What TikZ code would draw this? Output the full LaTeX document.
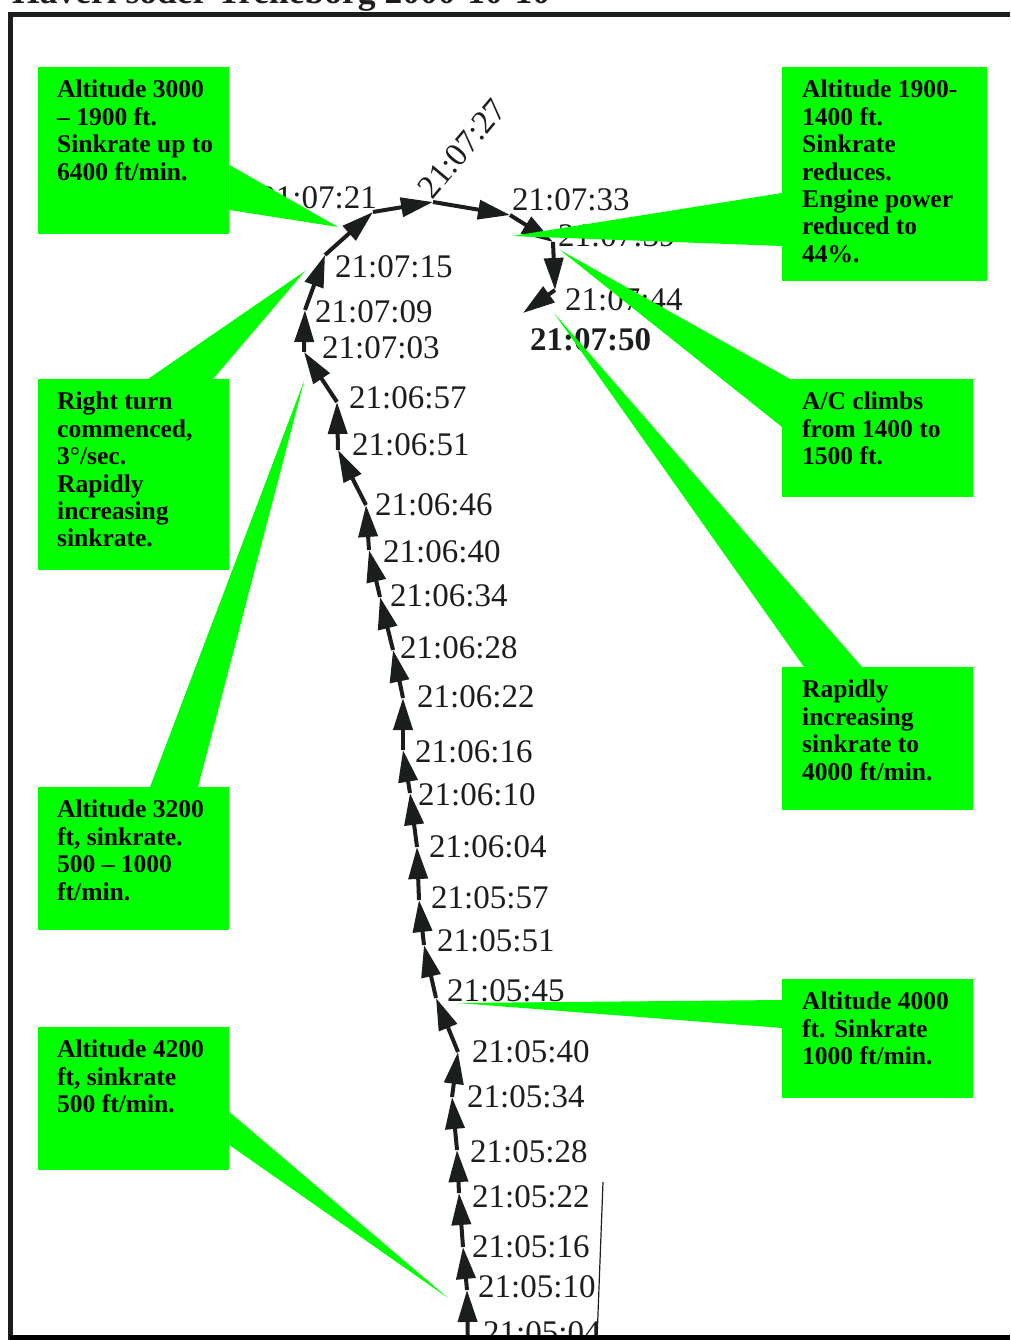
\documentclass[tikz,border=0pt]{standalone}
\usepackage{fontspec}
\setmainfont{Liberation Serif}
\usepackage{xcolor}
\usepackage{tikz}
\usetikzlibrary{positioning, arrows.meta}

\definecolor{callgreen}{RGB}{0,255,0}
\definecolor{ink}{RGB}{26,30,28}

\begin{document}
\begin{tikzpicture}[
            x=1pt, y=-1pt,
            callbox/.style={
                    fill=callgreen,
                    inner sep=0pt,
                    anchor=north west
                },
            calltext/.style={
                    inner sep=0pt,
                    anchor=north west,
                    align=left,
                    font=\fontsize{25.5}{27.4}\selectfont\bfseries
                },
            stamp/.style={
                    inner sep=0pt,
                    anchor=west,
                    text=ink,
                    font=\fontsize{33}{33}\selectfont
                },
            seg/.style={
                    -{Triangle[length=32pt,width=19pt]},
                    draw=ink,
                    line width=4pt
                },
            wedge/.style={
                    fill=callgreen
                }
        ]

        \useasboundingbox (0,0) rectangle (1010,1340);
        \clip (0,0) rectangle (1010,1340);


        % title, cut at the top of the page
        \node[anchor=base west, inner sep=0pt, text=ink,
            font=\fontsize{35.5}{35.5}\selectfont\bfseries] (title) at (12,4)
        {Haveri söder Trelleborg 2000-10-10};


        % flight track
        \coordinate (p0504) at (468,1350);
        \coordinate (p0510) at (467,1290);
        \coordinate (p0516) at (463,1247);
        \coordinate (p0522) at (459,1193);
        \coordinate (p0528) at (457,1150);
        \coordinate (p0534) at (452,1097);
        \coordinate (p0540) at (458,1052);
        \coordinate (p0545) at (436,998);
        \coordinate (p0551) at (424,945);
        \coordinate (p0557) at (419,900);
        \coordinate (p0604) at (417,847);
        \coordinate (p0610) at (410,793);
        \coordinate (p0616) at (403,750);
        \coordinate (p0622) at (403,698);
        \coordinate (p0628) at (393,650);
        \coordinate (p0634) at (380,597);
        \coordinate (p0640) at (369,550);
        \coordinate (p0646) at (366,505);
        \coordinate (p0651) at (338,450);
        \coordinate (p0657) at (337,402);
        \coordinate (p0703) at (304,352);
        \coordinate (p0709) at (305,310);
        \coordinate (p0715) at (325,255);
        \coordinate (p0721) at (373,212);
        \coordinate (p0727) at (433,202);
        \coordinate (p0733) at (510,215);
        \coordinate (p0739) at (553,242);
        \coordinate (p0744) at (555,290);
        \coordinate (p0750) at (523,313);


        \draw[seg] (p0504) -- (p0510);
        \draw[seg] (p0510) -- (p0516);
        \draw[seg] (p0516) -- (p0522);
        \draw[seg] (p0522) -- (p0528);
        \draw[seg] (p0528) -- (p0534);
        \draw[seg] (p0534) -- (p0540);
        \draw[seg] (p0540) -- (p0545);
        \draw[seg] (p0545) -- (p0551);
        \draw[seg] (p0551) -- (p0557);
        \draw[seg] (p0557) -- (p0604);
        \draw[seg] (p0604) -- (p0610);
        \draw[seg] (p0610) -- (p0616);
        \draw[seg] (p0616) -- (p0622);
        \draw[seg] (p0622) -- (p0628);
        \draw[seg] (p0628) -- (p0634);
        \draw[seg] (p0634) -- (p0640);
        \draw[seg] (p0640) -- (p0646);
        \draw[seg] (p0646) -- (p0651);
        \draw[seg] (p0651) -- (p0657);
        \draw[seg] (p0657) -- (p0703);
        \draw[seg] (p0703) -- (p0709);
        \draw[seg] (p0709) -- (p0715);
        \draw[seg] (p0715) -- (p0721);
        \draw[seg] (p0721) -- (p0727);
        \draw[seg] (p0727) -- (p0733);
        \draw[seg] (p0733) -- (p0739);
        \draw[seg] (p0739) -- (p0744);
        \draw[seg] (p0744) -- (p0750);


        % time stamps
        \node[stamp] (t0504) at (483,1333) {21:05:04};
        \node[stamp] (t0510) at (478,1287) {21:05:10};
        \node[stamp] (t0516) at (472,1247) {21:05:16};
        \node[stamp] (t0522) at (472,1197) {21:05:22};
        \node[stamp] (t0528) at (470,1152) {21:05:28};
        \node[stamp] (t0534) at (467,1097) {21:05:34};
        \node[stamp] (t0540) at (472,1052) {21:05:40};
        \node[stamp] (t0545) at (447,991) {21:05:45};
        \node[stamp] (t0551) at (437,941) {21:05:51};
        \node[stamp] (t0557) at (431,898) {21:05:57};
        \node[stamp] (t0604) at (429,847) {21:06:04};
        \node[stamp] (t0610) at (418,795) {21:06:10};
        \node[stamp] (t0616) at (415,752) {21:06:16};
        \node[stamp] (t0622) at (417,697) {21:06:22};
        \node[stamp] (t0628) at (400,648) {21:06:28};
        \node[stamp] (t0634) at (390,596) {21:06:34};
        \node[stamp] (t0640) at (383,552) {21:06:40};
        \node[stamp] (t0646) at (375,505) {21:06:46};
        \node[stamp] (t0651) at (352,445) {21:06:51};
        \node[stamp] (t0657) at (349,398) {21:06:57};
        \node[stamp] (t0703) at (322,348) {21:07:03};
        \node[stamp] (t0709) at (315,312) {21:07:09};
        \node[stamp] (t0715) at (335,267) {21:07:15};
        \node[stamp, anchor=east] (t0721) at (377,198) {21:07:21};
        \node[stamp, anchor=south west, rotate=50] (t0727) at (433,201) {21:07:27};
        \node[stamp] (t0733) at (512,200) {21:07:33};
        \node[stamp] (t0739) at (558,236) {21:07:39};
        \node[stamp] (t0744) at (565,300) {21:07:44};
        \node[stamp, font=\fontsize{33}{33}\selectfont\bfseries] (t0750) at (530,340) {21:07:50};


        % callout boxes
        \node[callbox, minimum width=191pt, minimum height=167pt] (c3000) at (38,67) {};
        \node[calltext] (c3000txt) at ([shift={(19,13)}]c3000.north west)
        {Altitude 3000\\– 1900 ft.\\Sinkrate up to\\6400 ft/min.};

        \node[callbox, minimum width=205pt, minimum height=214pt] (c1900) at (782,67) {};
        \node[calltext] (c1900txt) at ([shift={(20,13)}]c1900.north west)
        {Altitude 1900-\\1400 ft.\\Sinkrate\\reduces.\\Engine power\\reduced to\\44\%.};

        \node[callbox, minimum width=191pt, minimum height=191pt] (cturn) at (38,379) {};
        \node[calltext] (cturntxt) at ([shift={(19,13)}]cturn.north west)
        {Right turn\\commenced,\\3°/sec.\\Rapidly\\increasing\\sinkrate.};

        \node[callbox, minimum width=191pt, minimum height=118pt] (cclimb) at (782,379) {};
        \node[calltext] (cclimbtxt) at ([shift={(20,13)}]cclimb.north west)
        {A/C climbs\\from 1400 to\\1500 ft.};

        \node[callbox, minimum width=191pt, minimum height=143pt] (csink) at (782,667) {};
        \node[calltext] (csinktxt) at ([shift={(20,13)}]csink.north west)
        {Rapidly\\increasing\\sinkrate to\\4000 ft/min.};

        \node[callbox, minimum width=191pt, minimum height=143pt] (c3200) at (38,787) {};
        \node[calltext] (c3200txt) at ([shift={(19,13)}]c3200.north west)
        {Altitude 3200\\ft, sinkrate.\\500 – 1000\\ft/min.};

        \node[callbox, minimum width=191pt, minimum height=119pt] (c4000) at (782,979) {};
        \node[calltext] (c4000txt) at ([shift={(20,13)}]c4000.north west)
        {Altitude 4000\\ft. Sinkrate\\1000 ft/min.};

        \node[callbox, minimum width=191pt, minimum height=143pt] (c4200) at (38,1027) {};
        \node[calltext] (c4200txt) at ([shift={(19,13)}]c4200.north west)
        {Altitude 4200\\ft, sinkrate\\500 ft/min.};


        % callout pointers
        \coordinate (w3000) at (338,227);
        \coordinate (w1900) at (512,236);
        \coordinate (wturn) at (305,271);
        \coordinate (wclimb) at (560,250);
        \coordinate (wsink) at (554,313);
        \coordinate (w3200) at (304,381);
        \coordinate (w4000) at (458,1003);
        \coordinate (w4200) at (448,1298);

        \fill[wedge] ([shift={(0,98)}]c3000.north east) -- (w3000) -- ([shift={(0,143)}]c3000.north east) -- cycle;
        \fill[wedge] ([shift={(0,126)}]c1900.north west) -- (w1900) -- ([shift={(0,179)}]c1900.north west) -- cycle;
        \fill[wedge] ([shift={(110,0)}]cturn.north west) -- (wturn) -- ([shift={(175,0)}]cturn.north west) -- cycle;
        \fill[wedge] ([shift={(8,0)}]cclimb.north west) -- (wclimb) -- ([shift={(0,48)}]cclimb.north west) -- cycle;
        \fill[wedge] ([shift={(22,0)}]csink.north west) -- (wsink) -- ([shift={(80,0)}]csink.north west) -- cycle;
        \fill[wedge] ([shift={(112,0)}]c3200.north west) -- (w3200) -- ([shift={(160,0)}]c3200.north west) -- cycle;
        \fill[wedge] ([shift={(0,21)}]c4000.north west) -- (w4000) -- ([shift={(0,49)}]c4000.north west) -- cycle;
        \fill[wedge] ([shift={(0,85)}]c4200.north east) -- (w4200) -- ([shift={(0,118)}]c4200.north east) -- cycle;


        % frame and margin line
        \draw[ink, line width=1.2pt] (603,1182) -- (597,1340);
        \draw[ink, line width=5pt] (1010,14.5) -- (10.5,14.5) -- (10.5,1340);
        \fill[black] (10,1335) rectangle (1010,1340);


    \end{tikzpicture}
\end{document}
